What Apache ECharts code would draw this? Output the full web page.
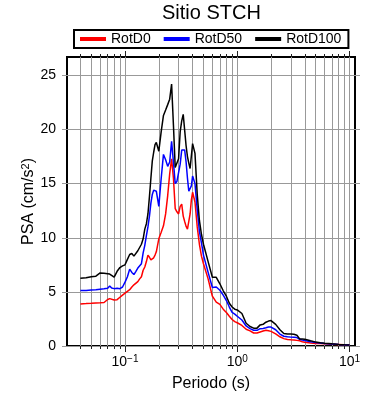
<!DOCTYPE html>
<html>
<head>
<meta charset="utf-8">
<script src="https://cdn.jsdelivr.net/npm/echarts@6/dist/echarts.min.js"></script>
<style>
  html, body { margin: 0; padding: 0; background: #fff; }
  #chart { width: 390px; height: 400px; }
</style>
</head>
<body>
<div id="chart"></div>
<script>
// periodo (s)
const periods = [
  0.04, 0.045, 0.05, 0.055, 0.06, 0.065, 0.07, 0.073, 0.076, 0.08, 0.085, 0.09, 0.095,
  0.1, 0.105, 0.11, 0.115, 0.12, 0.125, 0.13, 0.135, 0.14, 0.145, 0.15, 0.155, 0.16,
  0.165, 0.17, 0.175, 0.18, 0.185, 0.19, 0.2, 0.21, 0.22, 0.23, 0.24, 0.25, 0.26, 0.27,
  0.28, 0.29, 0.3, 0.31, 0.32, 0.33, 0.34, 0.35, 0.36, 0.37, 0.38, 0.39, 0.4, 0.42,
  0.44, 0.46, 0.48, 0.5, 0.55, 0.6, 0.65, 0.7, 0.75, 0.8, 0.85, 0.9, 0.95, 1.0, 1.1,
  1.2, 1.3, 1.4, 1.5, 1.6, 1.7, 1.8, 1.9, 2.0, 2.2, 2.4, 2.6, 2.8, 3.0, 3.2, 3.4, 3.6,
  3.8, 4.0, 4.5, 5.0, 5.5, 6.0, 7.0, 8.0, 9.0, 10.0
]

// PSA (cm/s2)
const rotD0 = [
  3.89, 3.92, 3.95, 3.98, 4.0, 4.02, 4.3, 4.38, 4.3, 4.25, 4.28, 4.5, 4.7,
  4.88, 5.05, 5.2, 5.45, 5.65, 5.8, 5.95, 6.2, 6.4, 7.0, 7.3, 7.8, 8.4,
  8.2, 7.96, 8.05, 8.15, 8.4, 8.7, 9.9, 10.5, 11.1, 12.2, 13.9, 15.9, 17.3, 15.5,
  12.7, 12.4, 12.2, 12.9, 13.1, 12.0, 11.5, 11.05, 10.8, 10.7, 12.2, 13.5, 14.2, 13.3,
  11.0, 9.4, 8.3, 7.6, 6.2, 4.6, 4.05, 3.85, 3.4, 3.1, 2.75, 2.45, 2.25, 2.15, 1.9,
  1.55, 1.4, 1.2, 1.2, 1.3, 1.38, 1.45, 1.4, 1.35, 1.12, 0.85, 0.68, 0.6, 0.57, 0.55, 0.52, 0.48,
  0.4, 0.35, 0.28, 0.24, 0.22, 0.2, 0.17, 0.14, 0.11, 0.1
]

const rotD50 = [
  5.12, 5.13, 5.17, 5.2, 5.25, 5.28, 5.33, 5.55, 5.35, 5.3, 5.33, 5.3, 5.45,
  5.9, 6.4, 7.1, 6.8, 6.6, 6.9, 7.2, 7.35, 7.6, 8.6, 9.3, 10.2, 11.0,
  12.0, 13.2, 14.0, 14.4, 14.5, 14.3, 12.9, 15.5, 17.7, 17.2, 16.6, 17.0, 18.9, 17.0,
  15.0, 15.2, 15.3, 16.8, 18.1, 18.15, 18.1, 17.0, 15.5, 14.3, 14.4, 14.8, 15.7, 15.0,
  12.6, 10.6, 9.5, 8.4, 6.8, 5.4, 5.45, 5.15, 4.7, 4.2, 3.6, 3.1, 2.95, 2.75, 2.4,
  1.85, 1.6, 1.45, 1.45, 1.6, 1.62, 1.68, 1.75, 1.75, 1.5, 1.1, 0.9, 0.85, 0.82, 0.8, 0.78, 0.62,
  0.55, 0.5, 0.4, 0.32, 0.28, 0.24, 0.19, 0.15, 0.12, 0.1
]

const rotD100 = [
  6.27, 6.3, 6.4, 6.45, 6.75, 6.72, 6.68, 6.65, 6.6, 6.36, 6.9, 7.25, 7.4,
  7.5, 8.0, 8.45, 8.55, 8.3, 8.4, 8.8, 8.95, 9.4, 9.9, 10.8, 11.3, 12.2,
  13.8, 15.5, 17.1, 17.9, 18.6, 18.8, 18.0, 19.8, 21.3, 21.8, 22.3, 22.8, 24.2, 20.4,
  16.5, 16.6, 17.3, 19.8, 20.8, 21.4, 21.4, 18.5, 17.5, 16.9, 16.4, 16.5, 18.7, 17.8,
  14.0, 11.6, 10.3, 9.4, 7.8, 6.35, 6.35, 5.75, 5.1, 4.6, 3.95, 3.6, 3.4, 3.33, 3.0,
  2.1, 1.8, 1.65, 1.65, 1.95, 2.0, 2.2, 2.3, 2.35, 2.0, 1.5, 1.15, 1.1, 1.1, 1.08, 1.0, 0.65,
  0.64, 0.63, 0.48, 0.36, 0.3, 0.26, 0.2, 0.15, 0.12, 0.1
]

const seriesNames = ['RotD0', 'RotD50', 'RotD100']
const seriesColors = ['#ff0000', '#0000ff', '#000000']

// marcas del eje x (log)
const minorTicks = [
  0.04, 0.05, 0.06, 0.07, 0.08, 0.09, 0.1, 0.2, 0.3, 0.4, 0.5, 0.6, 0.7, 0.8, 0.9,
  1, 2, 3, 4, 5, 6, 7, 8, 9, 10
]
const majorTicks = [0.1, 1, 10]
const yTicks = [0, 5, 10, 15, 20, 25]

const xMin = 0.0304
const xMax = 11.2
const yMax = 26.7
const font = 'Liberation Sans'

function pairs (vals) {
  return periods.map((t, i) => [t, vals[i]])
}

function expLabel (v) {
  const e = Math.round(Math.log10(v))
  return '10{sup|' + String(e).replace('-', '\u2212') + '}'
}

function xAxis (position, ticks, len, extra) {
  return Object.assign({
    type: 'log',
    gridIndex: 0,
    position: position,
    min: xMin,
    max: xMax,
    axisLine: { show: false },
    axisTick: { show: true, customValues: ticks, length: len, lineStyle: { color: '#222', width: 1 } },
    axisLabel: { show: false },
    splitLine: { show: false }
  }, extra || {})
}

function yAxis (position, extra) {
  return Object.assign({
    type: 'value',
    position: position,
    min: 0,
    max: yMax,
    axisLine: { show: false },
    axisTick: { show: true, customValues: yTicks, length: 5, lineStyle: { color: '#999', width: 1 } },
    axisLabel: { show: false },
    splitLine: { show: false }
  }, extra || {})
}

const chart = echarts.init(document.getElementById('chart'), null, { renderer: 'canvas' })

chart.setOption({
  animation: false,
  textStyle: { fontFamily: font },
  title: {
    text: 'Sitio STCH',
    left: 162,
    top: 3,
    padding: 0,
    textStyle: { fontSize: 20, fontWeight: 'normal', color: '#000', fontFamily: font }
  },
  legend: {
    data: seriesNames,
    left: 74,
    top: 30,
    padding: [2, 7, 2, 6],
    itemGap: 13,
    itemWidth: 26,
    itemHeight: 4,
    icon: 'rect',
    borderColor: '#000',
    borderWidth: 2,
    backgroundColor: '#fff',
    textStyle: { fontSize: 14, color: '#000', fontFamily: font }
  },
  grid: {
    left: 67,
    right: 35,
    top: 57,
    bottom: 54,
    show: true,
    borderColor: '#000',
    borderWidth: 2,
    backgroundColor: 'transparent'
  },
  xAxis: [
    xAxis('bottom', minorTicks, 3, {
      name: 'Periodo (s)',
      nameLocation: 'middle',
      nameGap: 30,
      nameMoveOverlap: false,
      nameTextStyle: { fontSize: 16, color: '#000', fontFamily: font },
      splitLine: { show: true, lineStyle: { color: '#999', width: 1 } },
      axisLabel: {
        show: true,
        customValues: majorTicks,
        margin: 8,
        fontSize: 14,
        color: '#000',
        fontFamily: font,
        formatter: expLabel,
        rich: {
          sup: { fontSize: 10, verticalAlign: 'top', color: '#000', fontFamily: font, padding: [0, 0, 6, 0] }
        }
      }
    }),
    xAxis('bottom', majorTicks, 6),
    xAxis('top', minorTicks, 3),
    xAxis('top', majorTicks, 6)
  ],
  yAxis: [
    yAxis('left', {
      name: 'PSA (cm/s{sup|2})',
      nameLocation: 'middle',
      nameGap: 30,
      nameMoveOverlap: false,
      nameTextStyle: {
        fontSize: 16,
        color: '#000',
        fontFamily: font,
        rich: { sup: { fontSize: 11, verticalAlign: 'top', padding: [0, 0, 6, 0], fontFamily: font, color: '#000' } }
      },
      axisLabel: { show: true, customValues: yTicks, margin: 11, fontSize: 14, color: '#000', fontFamily: font },
      splitLine: { show: true, lineStyle: { color: '#999', width: 1 } }
    }),
    yAxis('right')
  ],
  series: [rotD0, rotD50, rotD100].map((vals, i) => ({
    name: seriesNames[i],
    type: 'line',
    xAxisIndex: 0,
    yAxisIndex: 0,
    data: pairs(vals),
    showSymbol: false,
    symbol: 'none',
    lineStyle: { color: seriesColors[i], width: 1.5 },
    itemStyle: { color: seriesColors[i] }
  }))
})
</script>
</body>
</html>
